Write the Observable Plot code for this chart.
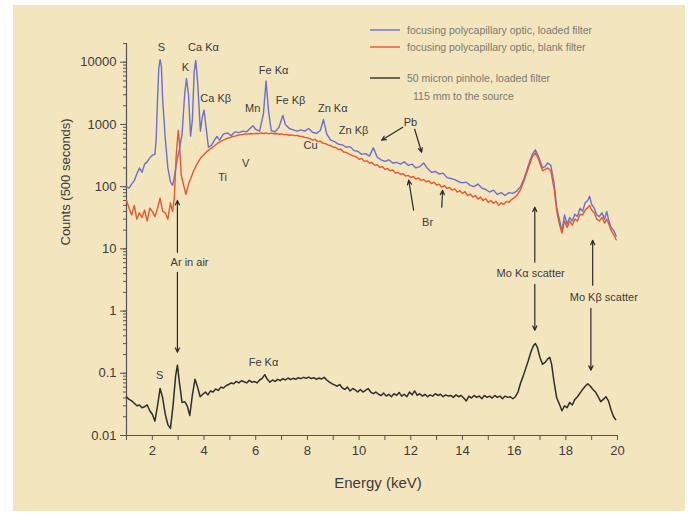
<!DOCTYPE html>
<html>
<head>
<meta charset="utf-8">
<script src="https://cdn.jsdelivr.net/npm/d3@7"></script>
<script src="https://cdn.jsdelivr.net/npm/@observablehq/plot@0.6"></script>
<style>
  html, body { margin: 0; padding: 0; background: #ffffff; }
  #chart { width: 688px; height: 514px; }
</style>
</head>
<body>
<div id="chart"></div>
<script>
// ---------- data ----------
const energyBlue = [1.0,1.1,1.2,1.3,1.4,1.5,1.6,1.7,1.8,1.9,2.0,2.1,2.15,2.2,2.25,2.3,2.35,2.4,2.5,2.6,2.7,2.78,2.85,2.95,3.05,3.15,3.25,3.32,3.4,3.48,3.55,3.62,3.68,3.75,3.86,3.93,4.0,4.08,4.17,4.3,4.4,4.5,4.6,4.75,4.9,5.05,5.2,5.35,5.5,5.65,5.8,5.9,6.0,6.15,6.3,6.4,6.5,6.6,6.75,6.9,7.05,7.15,7.3,7.45,7.6,7.75,7.9,8.05,8.2,8.35,8.5,8.62,8.75,8.9,9.05,9.2,9.35,9.5,9.65,9.8,9.95,10.1,10.25,10.4,10.55,10.7,10.85,11.0,11.15,11.3,11.45,11.6,11.75,11.9,12.05,12.2,12.35,12.5,12.65,12.8,12.95,13.1,13.25,13.4,13.55,13.7,13.85,14.0,14.15,14.3,14.45,14.6,14.75,14.9,15.05,15.2,15.35,15.5,15.65,15.8,15.95,16.1,16.25,16.4,16.55,16.7,16.82,16.95,17.1,17.2,17.3,17.42,17.55,17.65,17.75,17.85,17.95,18.05,18.15,18.25,18.35,18.45,18.55,18.65,18.75,18.85,18.92,19.0,19.1,19.2,19.3,19.4,19.5,19.58,19.65,19.75,19.85,19.95];
const countsBlue = [100,95,110,125,160,200,170,230,250,290,320,330,600,2500,8000,11000,8500,2500,600,200,120,105,140,260,400,700,3000,5500,3000,650,1200,7000,10700,5000,780,1300,1700,900,430,470,560,640,560,700,730,660,760,740,780,760,880,950,830,780,1500,5000,1600,800,760,900,1400,1000,860,820,780,820,780,860,750,720,800,1200,700,560,530,480,470,430,440,380,370,330,340,310,420,300,270,255,270,240,245,230,250,220,230,200,210,240,195,170,175,160,165,140,135,130,120,115,118,105,100,110,95,90,82,88,75,80,72,80,78,85,100,140,220,330,390,300,200,210,240,220,110,45,30,19,35,25,32,28,36,33,45,40,55,60,70,52,45,35,33,38,30,40,30,22,20,16];

const energyRed = [1.0,1.1,1.2,1.3,1.4,1.5,1.6,1.7,1.8,1.9,2.0,2.1,2.2,2.3,2.4,2.5,2.6,2.7,2.78,2.85,2.92,3.0,3.05,3.12,3.2,3.3,3.4,3.5,3.6,3.7,3.8,3.9,4.0,4.15,4.3,4.4,4.5,4.6,4.7,4.8,4.9,5.0,5.1,5.2,5.3,5.4,5.5,5.6,5.7,5.8,5.9,6.0,6.1,6.2,6.3,6.4,6.5,6.6,6.7,6.8,6.9,7.0,7.1,7.2,7.3,7.4,7.5,7.6,7.7,7.8,7.9,8.0,8.1,8.2,8.3,8.4,8.5,8.6,8.7,8.8,8.9,9.0,9.1,9.2,9.3,9.4,9.5,9.6,9.7,9.8,9.9,10.0,10.1,10.2,10.3,10.4,10.5,10.6,10.7,10.8,10.9,11.0,11.1,11.2,11.3,11.4,11.5,11.6,11.7,11.8,11.9,12.0,12.1,12.2,12.3,12.4,12.5,12.6,12.7,12.8,12.9,13.0,13.1,13.2,13.3,13.4,13.5,13.6,13.7,13.8,13.9,14.0,14.1,14.2,14.3,14.4,14.5,14.6,14.7,14.8,14.9,15.0,15.1,15.2,15.3,15.4,15.5,15.6,15.7,15.8,15.9,16.0,16.1,16.25,16.4,16.55,16.7,16.82,16.95,17.1,17.2,17.3,17.42,17.55,17.65,17.75,17.85,17.95,18.05,18.15,18.25,18.35,18.45,18.55,18.65,18.75,18.85,18.92,19.0,19.1,19.2,19.3,19.4,19.5,19.58,19.65,19.75,19.85,19.95];
const countsRed = [60,45,35,50,30,38,32,42,28,45,40,33,45,65,40,38,30,55,40,65,300,800,500,150,110,75,110,140,180,220,260,300,330,380,420,450,490,520,550,570,600,615,640,650,670,680,690,705,700,715,705,720,710,730,715,730,705,725,710,715,695,705,685,690,670,680,660,665,645,640,620,610,590,560,575,530,540,500,490,470,455,430,425,395,400,360,355,335,320,310,300,275,285,255,260,240,245,220,225,205,210,190,195,180,185,165,170,158,162,148,152,140,146,132,138,126,130,120,124,112,118,106,110,98,104,94,97,88,92,82,86,78,83,72,76,68,72,63,68,60,64,56,60,54,58,50,55,52,58,56,62,66,72,90,130,200,300,350,270,180,190,200,180,90,40,25,18,28,22,28,24,30,28,36,35,42,46,50,42,38,30,28,32,26,30,26,20,17,14];

const energyBlack = [1.0,1.1,1.2,1.3,1.4,1.5,1.6,1.7,1.8,1.9,2.0,2.1,2.2,2.3,2.4,2.5,2.6,2.7,2.8,2.9,2.97,3.05,3.15,3.25,3.35,3.45,3.55,3.65,3.75,3.85,3.95,4.05,4.15,4.25,4.35,4.45,4.55,4.65,4.75,4.85,4.95,5.05,5.15,5.25,5.35,5.45,5.55,5.65,5.75,5.85,5.95,6.05,6.15,6.25,6.35,6.45,6.55,6.65,6.75,6.85,6.95,7.05,7.15,7.25,7.35,7.45,7.55,7.65,7.75,7.85,7.95,8.05,8.15,8.25,8.35,8.45,8.55,8.65,8.75,8.85,8.95,9.05,9.15,9.25,9.35,9.45,9.55,9.65,9.75,9.85,9.95,10.05,10.15,10.25,10.35,10.45,10.55,10.65,10.75,10.85,10.95,11.05,11.15,11.25,11.35,11.45,11.55,11.65,11.75,11.85,11.95,12.05,12.15,12.25,12.35,12.45,12.55,12.65,12.75,12.85,12.95,13.05,13.15,13.25,13.35,13.45,13.55,13.65,13.75,13.85,13.95,14.05,14.15,14.25,14.35,14.45,14.55,14.65,14.75,14.85,14.95,15.05,15.15,15.25,15.35,15.45,15.55,15.65,15.75,15.85,15.95,16.05,16.15,16.25,16.35,16.45,16.55,16.65,16.75,16.82,16.9,17.0,17.1,17.2,17.3,17.38,17.45,17.55,17.65,17.75,17.85,17.95,18.05,18.15,18.25,18.35,18.45,18.55,18.65,18.75,18.85,18.95,19.05,19.15,19.25,19.35,19.45,19.55,19.65,19.75,19.85,19.93];
const countsBlack = [0.042,0.038,0.036,0.033,0.030,0.031,0.028,0.029,0.031,0.025,0.022,0.017,0.030,0.057,0.040,0.022,0.015,0.013,0.030,0.090,0.135,0.070,0.034,0.035,0.030,0.021,0.045,0.080,0.060,0.042,0.046,0.050,0.045,0.052,0.050,0.056,0.053,0.060,0.058,0.063,0.066,0.070,0.068,0.074,0.070,0.076,0.073,0.070,0.077,0.072,0.074,0.070,0.078,0.083,0.095,0.080,0.072,0.078,0.074,0.080,0.076,0.082,0.078,0.084,0.079,0.083,0.080,0.085,0.082,0.086,0.083,0.087,0.082,0.085,0.080,0.084,0.081,0.086,0.078,0.072,0.068,0.065,0.062,0.066,0.058,0.055,0.060,0.052,0.057,0.054,0.050,0.055,0.050,0.053,0.057,0.050,0.047,0.050,0.046,0.044,0.048,0.043,0.046,0.042,0.047,0.044,0.049,0.043,0.046,0.042,0.050,0.045,0.052,0.044,0.047,0.043,0.046,0.042,0.045,0.043,0.047,0.044,0.046,0.042,0.045,0.043,0.044,0.041,0.045,0.042,0.044,0.040,0.036,0.043,0.040,0.044,0.041,0.043,0.039,0.044,0.041,0.043,0.040,0.044,0.041,0.043,0.039,0.043,0.041,0.042,0.039,0.042,0.050,0.070,0.090,0.120,0.160,0.220,0.280,0.300,0.260,0.180,0.140,0.150,0.170,0.180,0.140,0.070,0.040,0.032,0.025,0.030,0.028,0.034,0.031,0.038,0.042,0.048,0.055,0.062,0.068,0.062,0.055,0.050,0.042,0.035,0.038,0.042,0.036,0.026,0.020,0.018];

const xTickValues = [1,2,3,4,5,6,7,8,9,10,11,12,13,14,15,16,17,18,19,20];
const xTickLabels = ["","2","","4","","6","","8","","10","","12","","14","","16","","18","","20"];
const yTickValues = [0.01,0.1,1,10,100,1000,10000];
const yTickLabels = ["0.01","0.1","1","10","100","1000","10000"];

const labelText = ["S","K","Ca K\u03b1","Ca K\u03b2","Mn","Fe K\u03b1","Fe K\u03b2","Zn K\u03b1","Zn K\u03b2","Cu","Ti","V","Pb","Br","Ar in air","Mo K\u03b1 scatter","Mo K\u03b2 scatter","S","Fe K\u03b1"];
const labelEnergy = [2.35,3.28,3.98,4.45,5.88,6.69,7.35,8.98,9.79,8.12,4.72,5.61,11.99,12.65,3.44,16.64,19.47,2.28,6.3];
const labelCounts = [17400,8300,17400,2640,1820,7430,2450,1820,807,463,142,238,1085,26.8,6.1,4.05,1.67,0.093,0.15];

const arrowE1 = [11.69,12.15,12.11,13.2,2.97,2.97,16.8,16.8,19.04,18.97];
const arrowC1 = [902,838,41.8,46.7,8.8,4.2,6.1,2.7,2.6,1.11];
const arrowE2 = [10.87,12.42,11.92,13.23,2.97,2.97,16.8,16.8,19.04,18.97];
const arrowC2 = [557,357,127,87.5,60,0.218,46.7,0.49,13.7,0.112];

const legendLabels = ["focusing polycapillary optic, loaded filter","focusing polycapillary optic, blank filter","50 micron pinhole, loaded filter"];
const legendColors = ["#6c6fcc","#e4582f","#2e2e2e"];
// ---------- build ----------
const toRows = (E, C) => E.map((e, i) => ({e, c: C[i]}));
const blue = toRows(energyBlue, countsBlue);
const red = toRows(energyRed, countsRed);
const black = toRows(energyBlack, countsBlack);
const labels = labelText.map((t, i) => ({t, e: labelEnergy[i], c: labelCounts[i]}));
const arrows = arrowE1.map((e, i) => ({e1: e, c1: arrowC1[i], e2: arrowE2[i], c2: arrowC2[i]}));
const yMinor = [];
for (let p = -2; p <= 4; p++) for (let m = 1; m <= 9; m++) { const v = m * Math.pow(10, p); if (v <= 20000) yMinor.push(+v.toPrecision(3)); }
yMinor.push(20000);

const font = "'Liberation Sans', Arial, sans-serif";
const ink = "#3b3b3b";

const chart = Plot.plot({
  width: 688, height: 514,
  marginLeft: 126, marginRight: 71, marginTop: 43, marginBottom: 79,
  style: {background: "transparent", fontFamily: font, color: ink, overflow: "visible"},
  x: {domain: [1, 20]},
  y: {type: "log", domain: [0.01, 20000]},
  marks: [
    Plot.axisX({ticks: xTickValues, tickFormat: d => xTickLabels[xTickValues.indexOf(d)], tickSize: 5, tickPadding: 5, fontSize: 13, label: null, stroke: "#555"}),
    Plot.axisY({ticks: yMinor, tickFormat: () => "", tickSize: 3, label: null, stroke: "#555"}),
    Plot.axisY({ticks: yTickValues, tickFormat: d => yTickLabels[yTickValues.indexOf(d)], tickSize: 6, tickPadding: 4, fontSize: 13, label: null, stroke: "#555"}),
    Plot.ruleX([1], {y1: 0.01, y2: 20000, stroke: "#555", strokeWidth: 1.2}),
    Plot.ruleY([0.01], {x1: 1, x2: 20, stroke: "#555", strokeWidth: 1.2}),
    Plot.line(blue, {x: "e", y: "c", stroke: legendColors[0], strokeWidth: 1.4}),
    Plot.line(red, {x: "e", y: "c", stroke: legendColors[1], strokeWidth: 1.4}),
    Plot.line(black, {x: "e", y: "c", stroke: legendColors[2], strokeWidth: 1.5}),
    Plot.arrow(arrows, {x1: "e1", y1: "c1", x2: "e2", y2: "c2", stroke: "#2b2b2b", strokeWidth: 1.2, headLength: 6, headAngle: 50}),
    Plot.text(labels, {x: "e", y: "c", text: "t", fontSize: 11, fill: ink}),
    Plot.text(["Energy (keV)"], {frameAnchor: "bottom", dy: 52, dx: 6, fontSize: 15, fill: ink}),
    Plot.text(["Counts (500 seconds)"], {frameAnchor: "left", dx: -61, dy: 6, rotate: -90, fontSize: 13, fill: ink})
  ]
});

const svg = d3.select(chart);
svg.insert("rect", ":first-child").attr("x", 13).attr("y", 5).attr("width", 672).attr("height", 506).attr("fill", "#f3e5be");
const leg = svg.append("g").attr("font-family", font).attr("font-size", 10.5).attr("fill", "#7a7a72").attr("text-anchor", "start");
const legY = [30, 47, 78];
legendLabels.forEach((t, i) => {
  leg.append("line").attr("x1", 370).attr("x2", 400).attr("y1", legY[i]).attr("y2", legY[i]).attr("stroke", legendColors[i]).attr("stroke-width", 1.4);
  leg.append("text").attr("x", 407).attr("y", legY[i]).attr("dy", "0.35em").text(t);
});
leg.append("text").attr("x", 413).attr("y", 96).attr("dy", "0.35em").text("115 mm to the source");
document.getElementById("chart").appendChild(chart);
</script>
</body>
</html>
